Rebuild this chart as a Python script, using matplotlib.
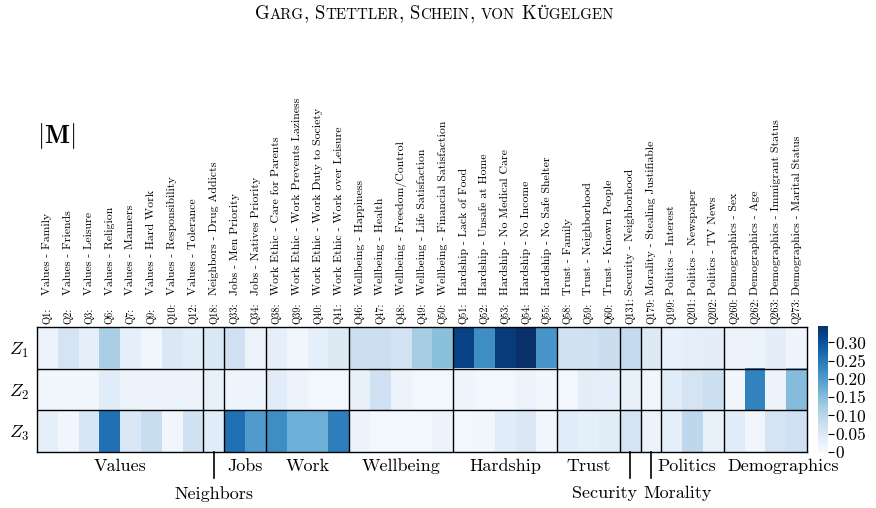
import numpy as np
import matplotlib
matplotlib.use("Agg")
import matplotlib.pyplot as plt

plt.rcParams['font.family'] = ['cmr10', 'DejaVu Serif']
plt.rcParams['mathtext.fontset'] = 'cm'
plt.rcParams['axes.unicode_minus'] = False
plt.rcParams['axes.formatter.use_mathtext'] = True

# ---------------- data ----------------
question_ids = ["Q1", "Q2", "Q3", "Q6", "Q7", "Q9", "Q10", "Q12",
                "Q18", "Q33", "Q34", "Q38", "Q39", "Q40", "Q41",
                "Q46", "Q47", "Q48", "Q49", "Q50",
                "Q51", "Q52", "Q53", "Q54", "Q55",
                "Q58", "Q59", "Q60", "Q131", "Q179",
                "Q199", "Q201", "Q202",
                "Q260", "Q262", "Q263", "Q273"]
question_topics = ["Values - Family", "Values - Friends", "Values - Leisure", "Values - Religion",
                   "Values - Manners", "Values - Hard Work", "Values - Responsibility", "Values - Tolerance",
                   "Neighbors - Drug Addicts", "Jobs - Men Priority", "Jobs - Natives Priority",
                   "Work Ethic - Care for Parents", "Work Ethic - Work Prevents Laziness",
                   "Work Ethic - Work Duty to Society", "Work Ethic - Work over Leisure",
                   "Wellbeing - Happiness", "Wellbeing - Health", "Wellbeing - Freedom/Control",
                   "Wellbeing - Life Satisfaction", "Wellbeing - Financial Satisfaction",
                   "Hardship - Lack of Food", "Hardship - Unsafe at Home", "Hardship - No Medical Care",
                   "Hardship - No Income", "Hardship - No Safe Shelter",
                   "Trust - Family", "Trust - Neighborhood", "Trust - Known People",
                   "Security - Neighborhood", "Morality - Stealing Justifiable",
                   "Politics - Interest", "Politics - Newspaper", "Politics - TV News",
                   "Demographics - Sex", "Demographics - Age", "Demographics - Immigrant Status",
                   "Demographics - Marital Status"]
group_names = ["Values", "Neighbors", "Jobs", "Work", "Wellbeing", "Hardship",
               "Trust", "Security", "Morality", "Politics", "Demographics"]
group_sizes = [8, 1, 2, 4, 5, 5, 3, 1, 1, 3, 4]
row_labels = [r"$Z_1$", r"$Z_2$", r"$Z_3$"]
cbar_ticks = [0, 0.05, 0.10, 0.15, 0.20, 0.25, 0.30]
cbar_ticklabels = ["0", "0.05", "0.10", "0.15", "0.20", "0.25", "0.30"]

z1 = [0.020, 0.060, 0.030, 0.117, 0.030, 0.012, 0.050, 0.040,
      0.050, 0.070, 0.020, 0.030, 0.012, 0.030, 0.045,
      0.075, 0.075, 0.062, 0.120, 0.145,
      0.320, 0.220, 0.330, 0.345, 0.210,
      0.065, 0.068, 0.078, 0.087, 0.045,
      0.025, 0.030, 0.035,
      0.020, 0.020, 0.035, 0.015]
z2 = [0.012, 0.012, 0.012, 0.040, 0.020, 0.020, 0.020, 0.020,
      0.025, 0.015, 0.015, 0.040, 0.020, 0.010, 0.010,
      0.025, 0.070, 0.020, 0.010, 0.010,
      0.015, 0.010, 0.010, 0.020, 0.012,
      0.010, 0.035, 0.030, 0.025, 0.012,
      0.040, 0.060, 0.075,
      0.012, 0.235, 0.020, 0.150]
z3 = [0.030, 0.012, 0.055, 0.260, 0.050, 0.080, 0.012, 0.065,
      0.040, 0.260, 0.200, 0.220, 0.170, 0.170, 0.240,
      0.020, 0.010, 0.010, 0.010, 0.020,
      0.010, 0.012, 0.040, 0.050, 0.012,
      0.040, 0.030, 0.040, 0.060, 0.020,
      0.030, 0.095, 0.025,
      0.040, 0.012, 0.060, 0.070]
vmax = 0.345

M = np.array([z1, z2, z3])
W, H = 876, 508

fig = plt.figure(figsize=(W / 100, H / 100), dpi=100)
ax = fig.add_axes([37 / W, 1 - 452 / H, (807 - 37) / W, (452 - 327) / H])
im = ax.imshow(M, cmap="Blues", vmin=0, vmax=vmax, aspect="auto", interpolation="nearest")

n = M.shape[1]
ax.set_xlim(-0.5, n - 0.5)
ax.set_ylim(2.5, -0.5)
ax.set_xticks([])
ax.set_yticks(range(3))
ax.set_yticklabels(row_labels, fontsize=13)
ax.tick_params(axis="y", length=0, pad=6)
for s in ax.spines.values():
    s.set_color("black")
    s.set_linewidth(1.0)

bounds = np.cumsum(group_sizes)
for b in bounds[:-1]:
    ax.axvline(b - 0.5, color="black", lw=1.0)
for r in [0.5, 1.5]:
    ax.axhline(r, color="black", lw=1.0)

# column labels (id + topic)
xt = ax.get_xaxis_transform()
for i, (q, t) in enumerate(zip(question_ids, question_topics)):
    ax.annotate(q + ":", (i, 1), xycoords=xt, xytext=(0, 1.8), textcoords="offset points",
                rotation=90, ha="center", va="bottom", fontsize=7.5)
    ax.annotate(t, (i, 1), xycoords=xt, xytext=(0, 23), textcoords="offset points",
                rotation=90, ha="center", va="bottom", fontsize=8.5)

# group labels
starts = bounds - np.array(group_sizes)
label_shift = {"Politics": -0.3, "Demographics": 0.85}
gfs = 13
for name, st, sz in zip(group_names, starts, group_sizes):
    center = st + (sz - 1) / 2
    if sz == 1:
        ax.plot([center, center], [0, -0.21], transform=xt, color="black", lw=1.2, clip_on=False)
        if name == "Security":
            ax.annotate(name, (center + 0.35, 0), xycoords=xt, xytext=(0, -30),
                        textcoords="offset points", ha="right", va="center", fontsize=gfs)
        elif name == "Morality":
            ax.annotate(name, (center - 0.35, 0), xycoords=xt, xytext=(0, -30),
                        textcoords="offset points", ha="left", va="center", fontsize=gfs)
        else:
            ax.annotate(name, (center, 0), xycoords=xt, xytext=(0, -30),
                        textcoords="offset points", ha="center", va="center", fontsize=gfs)
    else:
        ax.annotate(name, (center + label_shift.get(name, 0), 0), xycoords=xt, xytext=(0, -10.5),
                    textcoords="offset points", ha="center", va="center", fontsize=gfs)

# colorbar
cax = fig.add_axes([818 / W, 1 - 452 / H, 10 / W, 126 / H])
cb = fig.colorbar(im, cax=cax, ticks=cbar_ticks)
cb.ax.set_yticklabels(cbar_ticklabels)
cb.ax.tick_params(labelsize=12.5, length=4, width=0.8, pad=1)
cb.outline.set_visible(False)

# matrix symbol
fig.text(37 / W, 1 - 143 / H, r"$|\mathbf{M}|$", fontsize=19, va="baseline", ha="left")

# small caps title
title = "Garg, Stettler, Schein, von Kügelgen"
big, small = 13.5, 10.8
renderer = fig.canvas.get_renderer()

def width_of(s, size):
    t = fig.text(0, 0, s, fontsize=size)
    w = t.get_window_extent(renderer=renderer).width
    t.remove()
    return w

runs = []
for word_i, word in enumerate(title.split(" ")):
    if word_i > 0:
        runs.append((" ", big))
    cur, cur_size = "", None
    for ch in word:
        if ch.islower():
            c, sz = ch.upper(), small
        else:
            c, sz = ch, big
        if sz != cur_size and cur:
            runs.append((cur, cur_size))
            cur = ""
        cur += c
        cur_size = sz
    if cur:
        runs.append((cur, cur_size))

space_w = width_of("x x", big) - width_of("xx", big)
widths = [space_w if s == " " else width_of(s, sz) for s, sz in runs]
x = 434 - sum(widths) / 2
for (s, sz), w in zip(runs, widths):
    if s != " ":
        fig.text(x / W, 1 - 19 / H, s, fontsize=sz, va="baseline", ha="left")
    x += w

fig.savefig("out.png", dpi=100)
